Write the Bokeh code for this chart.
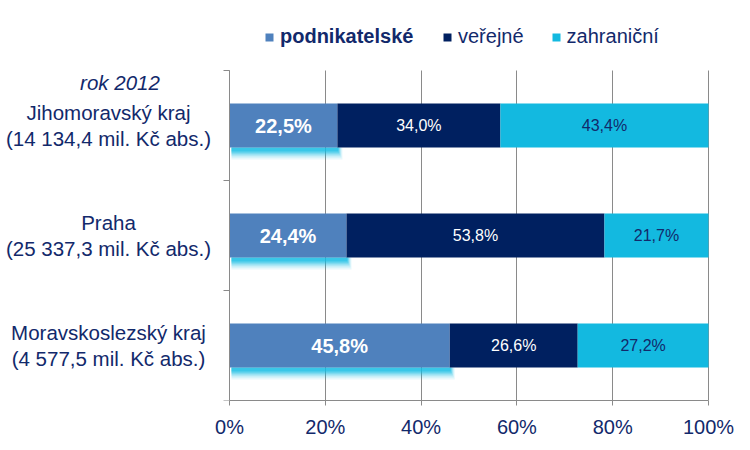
from bokeh.plotting import figure
from bokeh.models import (Range1d, FixedTicker, NumeralTickFormatter, Label, Legend,
                          LegendItem, ColumnDataSource, CustomJSTickFormatter)
from bokeh.embed import file_html
from bokeh.resources import INLINE
from bokeh.core.properties import value

# ---- data ----
regions = ["Jihomoravský kraj\n(14 134,4 mil. Kč abs.)",
           "Praha\n(25 337,3 mil. Kč abs.)",
           "Moravskoslezský kraj\n(4 577,5 mil. Kč abs.)"]
podnikatelske = [22.5, 24.4, 45.8]
verejne = [34.0, 53.8, 26.6]
zahranicni = [43.4, 21.7, 27.2]
series_names = ["podnikatelské", "veřejné", "zahraniční"]
year_label = "rok 2012"
x_ticks = [0, 0.2, 0.4, 0.6, 0.8, 1.0]

# ---- styles ----
C1, C2, C3 = "#4F81BD", "#002060", "#13B9E0"
GLOW = "#15BDE3"
TXT = "#12296B"
GRID = "#8a8a8a"
FONT = "Liberation Sans"

n = len(regions)
ypos = [n - 1 - i for i in range(n)]  # top to bottom
tot = [a + b + c for a, b, c in zip(podnikatelske, verejne, zahranicni)]
s1 = [a / t for a, t in zip(podnikatelske, tot)]
s2 = [b / t for b, t in zip(verejne, tot)]
s3 = [c / t for c, t in zip(zahranicni, tot)]
e1 = s1
e2 = [a + b for a, b in zip(s1, s2)]
e3 = [a + b + c for a, b, c in zip(s1, s2, s3)]

fmt = lambda v: f"{v:.1f}".replace(".", ",") + "%"

W, H = 750, 450
X0, X1 = 229, 708          # canvas px of 0% and 100%
FRAME_BOTTOM = 400
CAT_PX = 110
BAR_H = 0.4
px_x = 1.0 / (X1 - X0)
px_y = 1.0 / CAT_PX

x_start = -X0 / (X1 - X0)
x_end = (W - X0) / (X1 - X0)
y_start = -0.5
y_end = -0.5 + FRAME_BOTTOM / CAT_PX

p = figure(width=W, height=H, x_range=Range1d(x_start, x_end), y_range=Range1d(y_start, y_end),
           output_backend="svg", toolbar_location=None,
           min_border_left=0, min_border_right=0, min_border_top=0,
           min_border_bottom=H - FRAME_BOTTOM)
p.outline_line_color = None
p.background_fill_color = "white"
p.border_fill_color = "white"
p.ygrid.visible = False
p.xgrid.grid_line_color = GRID
p.xgrid.grid_line_width = 1
p.xgrid.bounds = (0, 1)
if "cross_bounds" in p.xgrid[0].properties():
    p.xgrid.cross_bounds = (-0.5, n - 0.5)

p.xaxis.ticker = FixedTicker(ticks=x_ticks)
p.xaxis.formatter = NumeralTickFormatter(format="0%")
p.xaxis.bounds = (0, 1)
p.xaxis.axis_line_color = GRID
p.xaxis.major_tick_line_color = GRID
p.xaxis.major_tick_in = 0
p.xaxis.major_tick_out = 5
p.xaxis.minor_tick_line_color = None
p.xaxis.major_label_text_font = FONT
p.xaxis.major_label_text_font_size = "20px"
p.xaxis.major_label_text_color = TXT
p.xaxis.major_label_standoff = 10

p.yaxis.fixed_location = 0
p.yaxis.bounds = (-0.5, n - 0.5)
p.yaxis.ticker = FixedTicker(ticks=[y - 0.5 for y in range(n + 1)])
p.yaxis.formatter = CustomJSTickFormatter(code="return ''")
p.yaxis.axis_line_color = GRID
p.yaxis.major_tick_line_color = GRID
p.yaxis.major_tick_in = 0
p.yaxis.major_tick_out = 6
p.yaxis.minor_tick_line_color = None

# glow under first segment
for k, a, ext in [(12, 0.10, 5), (10, 0.15, 4), (8, 0.25, 3), (6, 0.4, 2), (4, 0.55, 1)]:
    p.quad(left=[2 * px_x] * n, right=[v + ext * px_x for v in e1],
           top=[y - BAR_H / 2 for y in ypos],
           bottom=[y - BAR_H / 2 - k * px_y for y in ypos],
           fill_color=GLOW, fill_alpha=a, line_color=None)

r1 = p.hbar(y=ypos, left=[0] * n, right=e1, height=BAR_H, fill_color=C1, line_color=None)
r2 = p.hbar(y=ypos, left=e1, right=e2, height=BAR_H, fill_color=C2, line_color=None)
r3 = p.hbar(y=ypos, left=e2, right=e3, height=BAR_H, fill_color=C3, line_color=None)

# data labels
src = ColumnDataSource(dict(
    y=ypos,
    x1=[v / 2 for v in e1], x2=[(a + b) / 2 for a, b in zip(e1, e2)],
    x3=[(a + b) / 2 for a, b in zip(e2, e3)],
    t1=[fmt(v) for v in podnikatelske], t2=[fmt(v) for v in verejne],
    t3=[fmt(v) for v in zahranicni]))
p.text(x="x1", y="y", text="t1", source=src, text_align="center", text_baseline="middle",
       text_font=value(FONT), text_font_size="20px", text_font_style="bold", text_color="white")
p.text(x="x2", y="y", text="t2", source=src, text_align="center", text_baseline="middle",
       text_font=value(FONT), text_font_size="16px", text_color="white")
p.text(x="x3", y="y", text="t3", source=src, text_align="center", text_baseline="middle",
       text_font=value(FONT), text_font_size="16px", text_color=TXT)

# category labels
for name, y in zip(regions, ypos):
    p.add_layout(Label(x=108, y=y, x_units="screen", y_units="data", text=name,
                       text_align="center", text_baseline="middle", text_font=FONT,
                       text_font_size="20.5px", text_color=TXT, text_line_height=1.15))
p.add_layout(Label(x=119.5, y=FRAME_BOTTOM - 82, x_units="screen", y_units="screen",
                   text=year_label, text_align="center", text_baseline="middle",
                   text_font=FONT, text_font_size="20.5px", text_font_style="italic",
                   text_color=TXT))

# legends
common = dict(orientation="horizontal", padding=0, margin=0, border_line_color=None,
              background_fill_alpha=0, glyph_width=10, glyph_height=10, label_standoff=6,
              label_text_font=FONT, label_text_font_size="20px", label_text_color=TXT)
lg1 = Legend(items=[LegendItem(label=series_names[0], renderers=[r1])],
             location=(264, 352), label_text_font_style="bold", **common)
lg2 = Legend(items=[LegendItem(label=series_names[1], renderers=[r2]),
                    LegendItem(label=series_names[2], renderers=[r3])],
             location=(442, 352), spacing=27, **common)
p.add_layout(lg1, "center")
p.add_layout(lg2, "center")

open("out.html", "w").write(file_html(p, INLINE))
